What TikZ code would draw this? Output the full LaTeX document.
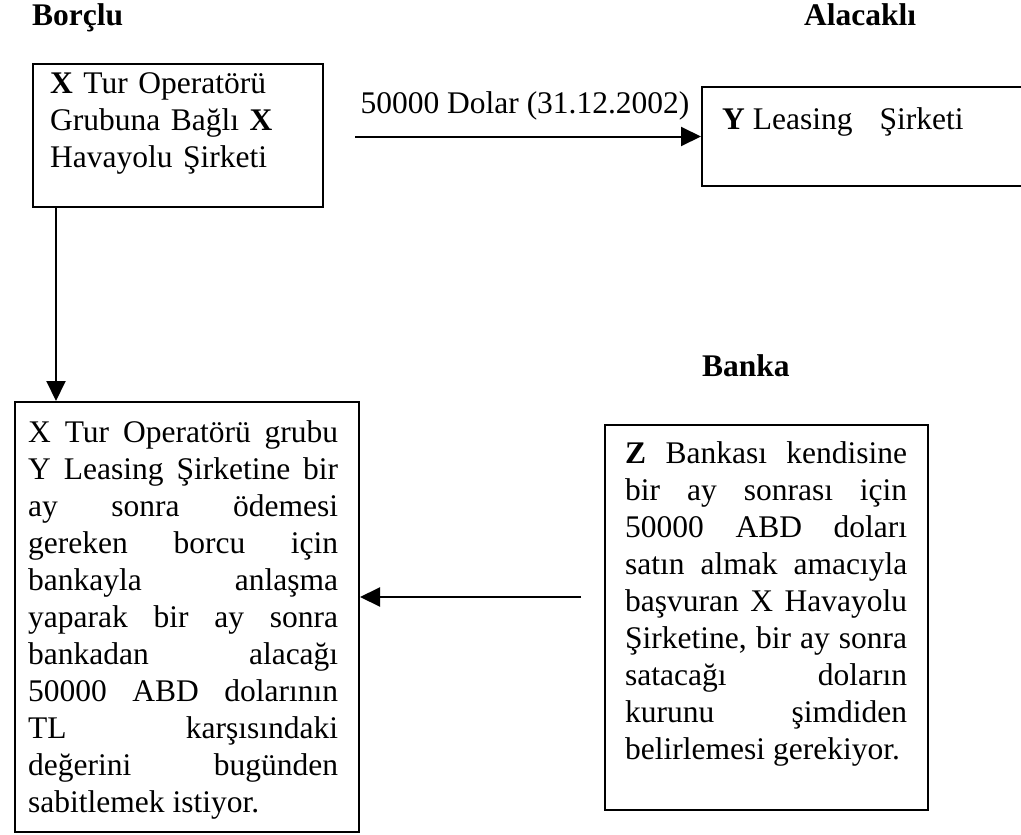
\documentclass[tikz,border=0pt]{standalone}
\usepackage{fontspec}
\setmainfont{Liberation Serif}
\usetikzlibrary{arrows.meta}
\newcommand\diagfont{\fontsize{31.5}{37}\selectfont\tolerance=9999\hyphenpenalty=10000\exhyphenpenalty=10000}
\begin{document}
\begin{tikzpicture}[x=1pt,y=-1pt,
  box/.style={draw, line width=2pt, inner sep=0pt},
  para/.style={inner sep=0pt, anchor=north west, font=\diagfont, align=justify},
  plain/.style={inner sep=0pt, anchor=base west, font=\diagfont},
  head/.style={inner sep=0pt, anchor=base west, font=\diagfont\bfseries},
  arr/.style={line width=2pt, -{Triangle[length=20pt,width=19pt]}},
]
\useasboundingbox (0,0) rectangle (1021,835);
\clip (0,0) rectangle (1021,835);

% headings
\node[head] (hBorclu) at (32,25) {Borçlu};
\node[head] (hAlacakli) at (804,25) {Alacaklı};
\node[head] (hBanka) at (702,376) {Banka};

% boxes
\node[box, minimum width=290pt, minimum height=143pt] (borc) at (178,135.5) {};
\node[box, minimum width=338pt, minimum height=99pt] (lease) at (871,136.5) {};
\node[box, minimum width=344pt, minimum height=430pt] (islem) at (187,617) {};
\node[box, minimum width=323pt, minimum height=385pt] (banka) at (766.5,617.5) {};

% box texts
\node[para, align=left, text width=280pt] (borcT) at (50,67.1)
  {\strut\textbf{X} Tur Operatörü\\Grubuna Bağlı \textbf{X}\\Havayolu Şirketi};
\node[plain] (leaseT) at (722,129) {\textbf{Y} Leasing\hspace{27pt}Şirketi};
\node[para, text width=310pt] (islemT) at (28,416.1)
  {\strut X Tur Operatörü grubu\linebreak
   Y Leasing Şirketine bir\linebreak
   ay sonra ödemesi\linebreak
   gereken borcu için\linebreak
   bankayla anlaşma\linebreak
   yaparak bir ay sonra\linebreak
   bankadan alacağı\linebreak
   50000 ABD dolarının\linebreak
   TL karşısındaki\linebreak
   değerini bugünden\linebreak
   sabitlemek istiyor.};
\node[para, text width=282pt] (bankaT) at (625,437.1)
  {\strut\textbf{Z} Bankası kendisine\linebreak
   bir ay sonrası için\linebreak
   50000 ABD doları\linebreak
   satın almak amacıyla\linebreak
   başvuran X Havayolu\linebreak
   Şirketine, bir ay sonra\linebreak
   satacağı doların\linebreak
   kurunu şimdiden\linebreak
   belirlemesi gerekiyor.};

% connectors
\draw[arr, shorten <=31pt] (borc.east |- lease.west) -- (lease.west);
\node[plain, anchor=base] (lblDolar) at (525,113) {50000 Dolar (31.12.2002)};
\draw[arr] ([xshift=24pt]borc.south west) -- ([xshift=24pt]borc.south west |- islem.north);
\draw[arr, shorten <=23pt] ([yshift=20.5pt]banka.west) -- ([yshift=20.5pt]banka.west -| islem.east);
\end{tikzpicture}
\end{document}
